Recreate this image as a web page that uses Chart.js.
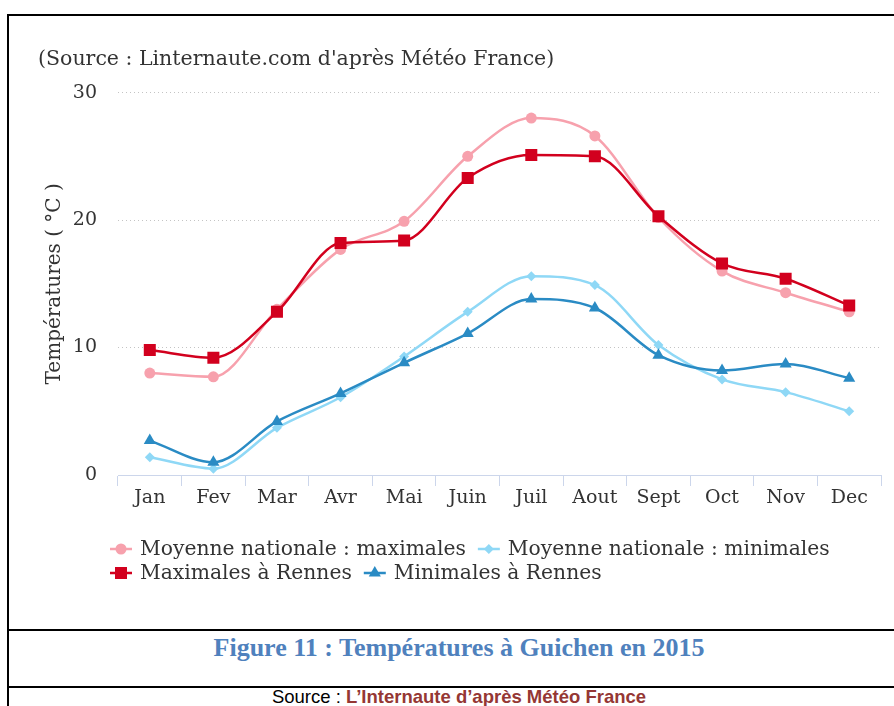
<!DOCTYPE html>
<html>
<head>
<meta charset="utf-8">
<script src="https://cdn.jsdelivr.net/npm/chart.js@4.4.0/dist/chart.umd.min.js"></script>
<style>
  html, body { margin: 0; padding: 0; background: #fff; width: 894px; height: 706px; overflow: hidden; }
  .frame { position: absolute; left: 7px; top: 14px; width: 900px; border-left: 2px solid #000; border-top: 2px solid #000; }
  .chartRow { height: 613px; border-bottom: 2px solid #000; }
  .caption { height: 57px; border-bottom: 2px solid #000; text-align: center; box-sizing: border-box;
    font: bold 26px "Liberation Serif", serif; line-height: 34px; color: #4f81bd; }
  .source { text-align: center; font: 18.5px "Liberation Sans", Arial, sans-serif; line-height: 18px; color: #000; }
  .source b { color: #953734; }
  #chart { position: absolute; left: 0; top: 0; z-index: 2; }
</style>
</head>
<body>
<div class="frame">
  <div class="chartRow"></div>
  <div class="caption">Figure 11 : Températures à Guichen en 2015</div>
  <div class="source">Source : <b>L’Internaute d’après Météo France</b></div>
</div>
<canvas id="chart" width="894" height="628"></canvas>
<script>
const months = ['Jan', 'Fev', 'Mar', 'Avr', 'Mai', 'Juin', 'Juil', 'Aout', 'Sept', 'Oct', 'Nov', 'Dec'];
const natMax = [8.0, 7.7, 13.0, 17.7, 19.9, 25.0, 28.0, 26.6, 20.2, 16.0, 14.3, 12.8];
const natMin = [1.4, 0.5, 3.7, 6.1, 9.3, 12.8, 15.6, 14.9, 10.2, 7.5, 6.5, 5.0];
const rennesMax = [9.8, 9.2, 12.8, 18.2, 18.4, 23.3, 25.1, 25.0, 20.3, 16.6, 15.4, 13.3];
const rennesMin = [2.7, 1.0, 4.2, 6.4, 8.8, 11.1, 13.8, 13.1, 9.4, 8.2, 8.7, 7.6];
const yTicks = [0, 10, 20, 30];

const serif = 'DejaVu Serif';
const textColor = '#333333';

// legend drawn like the original: a short line with the marker on it
const lineLegend = {
    id: 'lineLegend',
    afterDraw(chart, args, opts) {
        const ctx = chart.ctx;
        ctx.save();
        ctx.font = opts.font;
        ctx.textBaseline = 'middle';
        ctx.textAlign = 'left';
        let x = opts.x;
        let y = opts.y;
        chart.data.datasets.forEach(ds => {
            const w = opts.symbolWidth + opts.gap + ctx.measureText(ds.label).width;
            if (x > opts.x && x + w > opts.x + opts.maxWidth) {
                x = opts.x;
                y += opts.lineHeight;
            }
            ctx.strokeStyle = ds.borderColor;
            ctx.lineWidth = ds.borderWidth;
            ctx.beginPath();
            ctx.moveTo(x, y);
            ctx.lineTo(x + opts.symbolWidth, y);
            ctx.stroke();
            ctx.fillStyle = ds.pointBackgroundColor;
            Chart.helpers.drawPoint(ctx, {
                pointStyle: ds.pointStyle,
                radius: ds.pointRadius,
                rotation: 0,
                borderWidth: 0
            }, x + opts.symbolWidth / 2, y);
            ctx.fillStyle = textColor;
            ctx.fillText(ds.label, x + opts.symbolWidth + opts.gap, y + 1);
            x += w + opts.itemGap;
        });
        ctx.restore();
    }
};

function series(label, data, color, style, radius, order) {
    return {
        label: label,
        data: data,
        borderColor: color,
        backgroundColor: color,
        pointBackgroundColor: color,
        pointBorderWidth: 0,
        pointStyle: style,
        pointRadius: radius,
        borderWidth: 2.5,
        cubicInterpolationMode: 'monotone',
        fill: false,
        order: order
    };
}

new Chart(document.getElementById('chart'), {
    type: 'line',
    data: {
        labels: months,
        datasets: [
            series('Moyenne nationale : maximales', natMax, '#f7a1ad', 'circle', 5.5, 4),
            series('Moyenne nationale : minimales', natMin, '#8fd8f6', 'rectRot', 5, 3),
            series('Maximales à Rennes', rennesMax, '#d2001e', 'rect', 8.5, 2),
            series('Minimales à Rennes', rennesMin, '#2a8bc4', 'triangle', 7, 1)
        ]
    },
    options: {
        responsive: false,
        animation: false,
        devicePixelRatio: 1,
        layout: { padding: { left: 38, right: 13, top: 10, bottom: 119 } },
        plugins: {
            legend: { display: false },
            tooltip: { enabled: false },
            title: {
                display: true,
                text: "(Source : Linternaute.com d'après Météo France)",
                align: 'start',
                color: textColor,
                font: { family: serif, size: 20.5, weight: 'normal' },
                padding: { top: 37, bottom: 21 }
            },
            lineLegend: {
                x: 110, y: 549, symbolWidth: 22, gap: 8, itemGap: 12,
                maxWidth: 780, lineHeight: 24,
                font: '20.3px "DejaVu Serif"'
            }
        },
        scales: {
            x: {
                offset: true,
                afterFit: s => { s.height = 34; },
                grid: { offset: true, drawOnChartArea: false, color: '#ccd6eb', tickLength: 11 },
                border: { color: '#ccd6eb', width: 1 },
                ticks: { color: textColor, padding: 1, font: { family: serif, size: 19 } }
            },
            y: {
                min: 0,
                max: 30,
                afterFit: s => { s.width = 80; },
                afterBuildTicks: s => { s.ticks = yTicks.map(v => ({ value: v })); },
                grid: { color: '#c4c4c4', lineWidth: 1, drawTicks: false },
                border: { display: false, dash: [1, 3] },
                ticks: { color: textColor, padding: 21, font: { family: serif, size: 19 } },
                title: {
                    display: true,
                    text: 'Températures ( °C )',
                    color: textColor,
                    font: { family: serif, size: 20, weight: 'normal' },
                    padding: { top: 5, bottom: 0 }
                }
            }
        }
    },
    plugins: [lineLegend]
});
</script>
</body>
</html>
